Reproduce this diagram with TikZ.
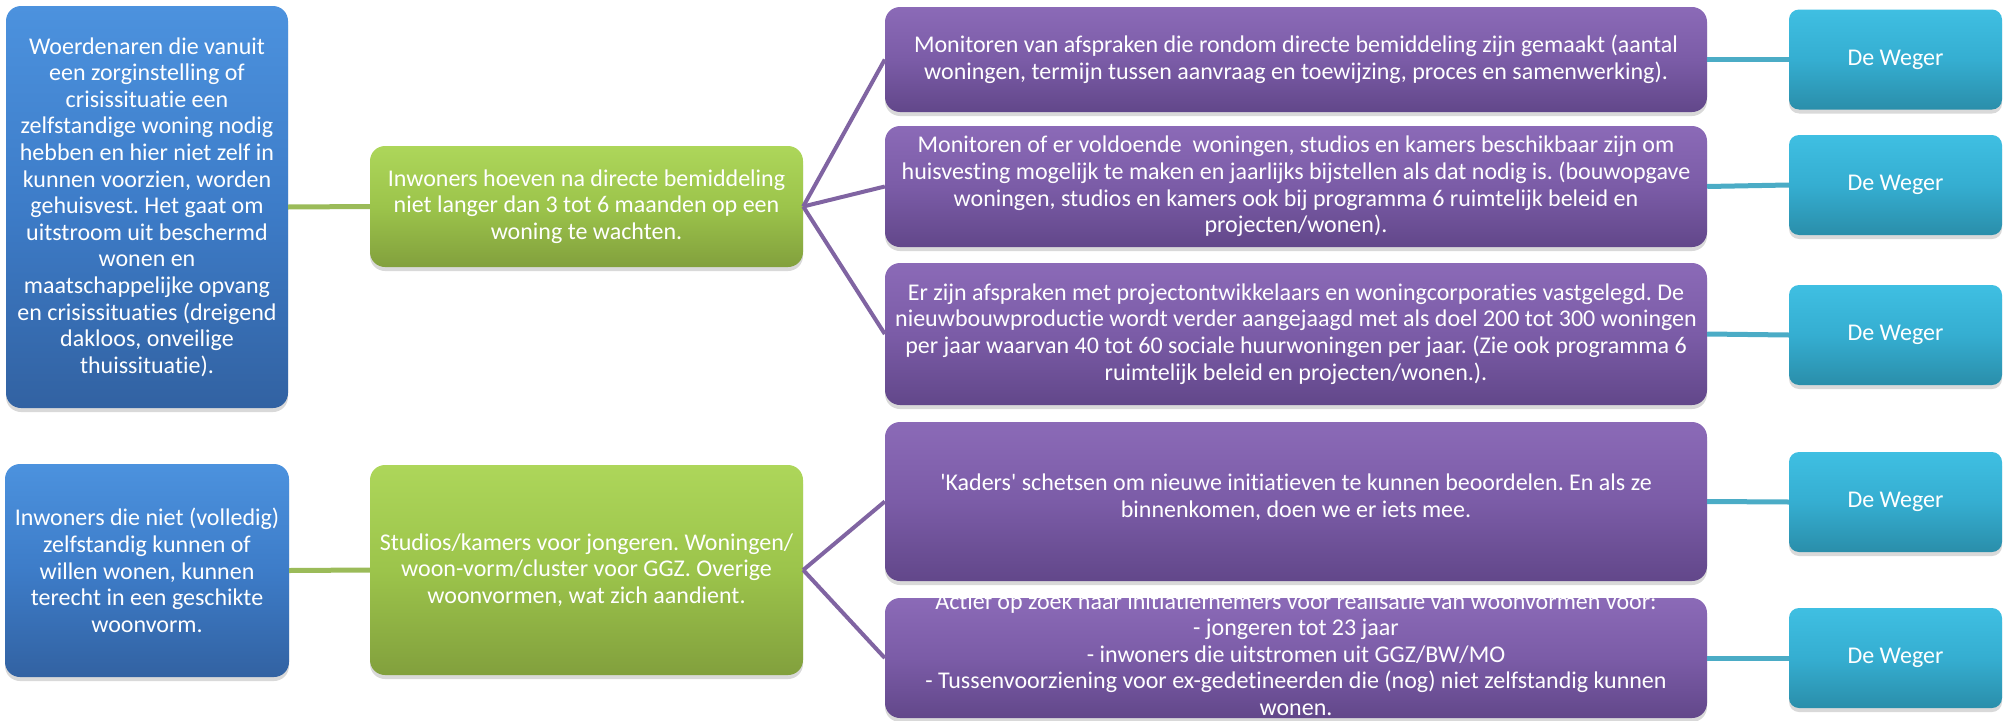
\documentclass[tikz,border=0pt]{standalone}
\usepackage{fontspec}
\setmainfont{Carlito}[Ligatures=NoCommon]
\usetikzlibrary{shadows}
\frenchspacing
\definecolor{bTop}{HTML}{4C92DE}
\definecolor{bMid}{HTML}{3D7CC8}
\definecolor{bBot}{HTML}{3262A2}
\definecolor{gTop}{HTML}{ADD65A}
\definecolor{gMid}{HTML}{9CC44B}
\definecolor{gBot}{HTML}{82A03D}
\definecolor{pTop}{HTML}{8B6AB7}
\definecolor{pMid}{HTML}{7B5CA7}
\definecolor{pBot}{HTML}{62478A}
\definecolor{cTop}{HTML}{3FBFE2}
\definecolor{cMid}{HTML}{35AED1}
\definecolor{cBot}{HTML}{2A8EAA}
\definecolor{gLine}{HTML}{9BBB59}
\definecolor{pLine}{HTML}{8064A2}
\definecolor{cLine}{HTML}{4BACC6}
\tikzset{
  x=1pt, y=-1pt,
  boxtext/.style={inner sep=0pt, align=center, text=white, font=\fontsize{24}{26.6}\selectfont},
  box/.style={boxtext, rounded corners=15pt,
    drop shadow={shadow xshift=0pt, shadow yshift=-4pt, opacity=0.3}},
  bluebox/.style={box, top color=bTop, bottom color=bBot, middle color=bMid},
  greenbox/.style={box, top color=gTop, bottom color=gBot, middle color=gMid},
  purplebox/.style={box, top color=pTop, bottom color=pBot, middle color=pMid, minimum width=822pt},
  cyanbox/.style={box, rounded corners=10pt, top color=cTop, bottom color=cBot, middle color=cMid, minimum width=213pt, minimum height=100pt},
  gconn/.style={draw=gLine, line width=5pt},
  pconn/.style={draw=pLine, line width=4pt},
  cconn/.style={draw=cLine, line width=5pt},
}
\begin{document}
\begin{tikzpicture}
\useasboundingbox (0,0) rectangle (2009,720);
% boxes
\node[bluebox, minimum width=282pt, minimum height=402pt] (b1) at (147,207)
 {Woerdenaren die vanuit\\een zorginstelling of\\crisissituatie een\\zelfstandige woning nodig\\hebben en hier niet zelf in\\kunnen voorzien, worden\\gehuisvest. Het gaat om\\uitstroom uit beschermd\\wonen en\\maatschappelijke opvang\\en crisissituaties (dreigend\\dakloos, onveilige\\thuissituatie).};
\node[greenbox, minimum width=433pt, minimum height=121pt] (g1) at (586.5,206.5)
 {Inwoners hoeven na directe bemiddeling\\niet langer dan 3 tot 6 maanden op een\\woning te wachten.};
\node[purplebox, minimum height=105pt] (p1) at (1296,59.5)
 {Monitoren van afspraken die rondom directe bemiddeling zijn gemaakt (aantal\\woningen, termijn tussen aanvraag en toewijzing, proces en samenwerking).};
\node[purplebox, minimum height=121pt] (p2) at (1296,186.5)
 {Monitoren of er voldoende\ \ woningen, studios en kamers beschikbaar zijn om\\huisvesting mogelijk te maken en jaarlijks bijstellen als dat nodig is. (bouwopgave\\woningen, studios en kamers ook bij programma 6 ruimtelijk beleid en\\projecten/wonen).};
\node[purplebox, minimum height=142pt] (p3) at (1296,334)
 {Er zijn afspraken met projectontwikkelaars en woningcorporaties vastgelegd. De\\nieuwbouwproductie wordt verder aangejaagd met als doel 200 tot 300 woningen\\per jaar waarvan 40 tot 60 sociale huurwoningen per jaar. (Zie ook programma 6\\ruimtelijk beleid en projecten/wonen.).};
\node[bluebox, minimum width=284pt, minimum height=213pt] (b2) at (147,570.5)
 {Inwoners die niet (volledig)\\zelfstandig kunnen of\\willen wonen, kunnen\\terecht in een geschikte\\woonvorm.};
\node[greenbox, minimum width=433pt, minimum height=210pt] (g2) at (586.5,570)
 {Studios/kamers voor jongeren. Woningen/\\woon-vorm/cluster voor GGZ. Overige\\woonvormen, wat zich aandient.};
\node[purplebox, minimum height=159pt] (p4) at (1296,501.5) {};
\node[boxtext] (p4t) at (1296,497)
 {\textquotesingle Kaders\textquotesingle{} schetsen om nieuwe initiatieven te kunnen beoordelen. En als ze\\binnenkomen, doen we er iets mee.};
\node[purplebox, minimum height=120pt] (p5) at (1296,658) {};
\node[boxtext] (p5t) at (1296,654)
 {Actief op zoek naar initiatiefnemers voor realisatie van woonvormen voor:\\- jongeren tot 23 jaar\\- inwoners die uitstromen uit GGZ/BW/MO\\- Tussenvoorziening voor ex-gedetineerden die (nog) niet zelfstandig kunnen\\wonen.};
\node[cyanbox] (c1) at (1895.5,59.5) {De Weger};
\node[cyanbox] (c2) at (1895.5,185) {De Weger};
\node[cyanbox] (c3) at (1895.5,335) {De Weger};
\node[cyanbox] (c4) at (1895.5,502) {De Weger};
\node[cyanbox] (c5) at (1895.5,658) {De Weger};
% connectors
\draw[gconn] (b1.east) -- (g1.west);
\draw[gconn] (b2.east) -- (g2.west);
\draw[pconn] (g1.east) -- (p1.west);
\draw[pconn] (g1.east) -- (p2.west);
\draw[pconn] (g1.east) -- (p3.west);
\draw[pconn] (g2.east) -- (p4.west);
\draw[pconn] (g2.east) -- (p5.west);
\draw[cconn] (p1.east) -- (c1.west);
\draw[cconn] (p2.east) -- (c2.west);
\draw[cconn] (p3.east) -- (c3.west);
\draw[cconn] (p4.east) -- (c4.west);
\draw[cconn] (p5.east) -- (c5.west);
\end{tikzpicture}
\end{document}
